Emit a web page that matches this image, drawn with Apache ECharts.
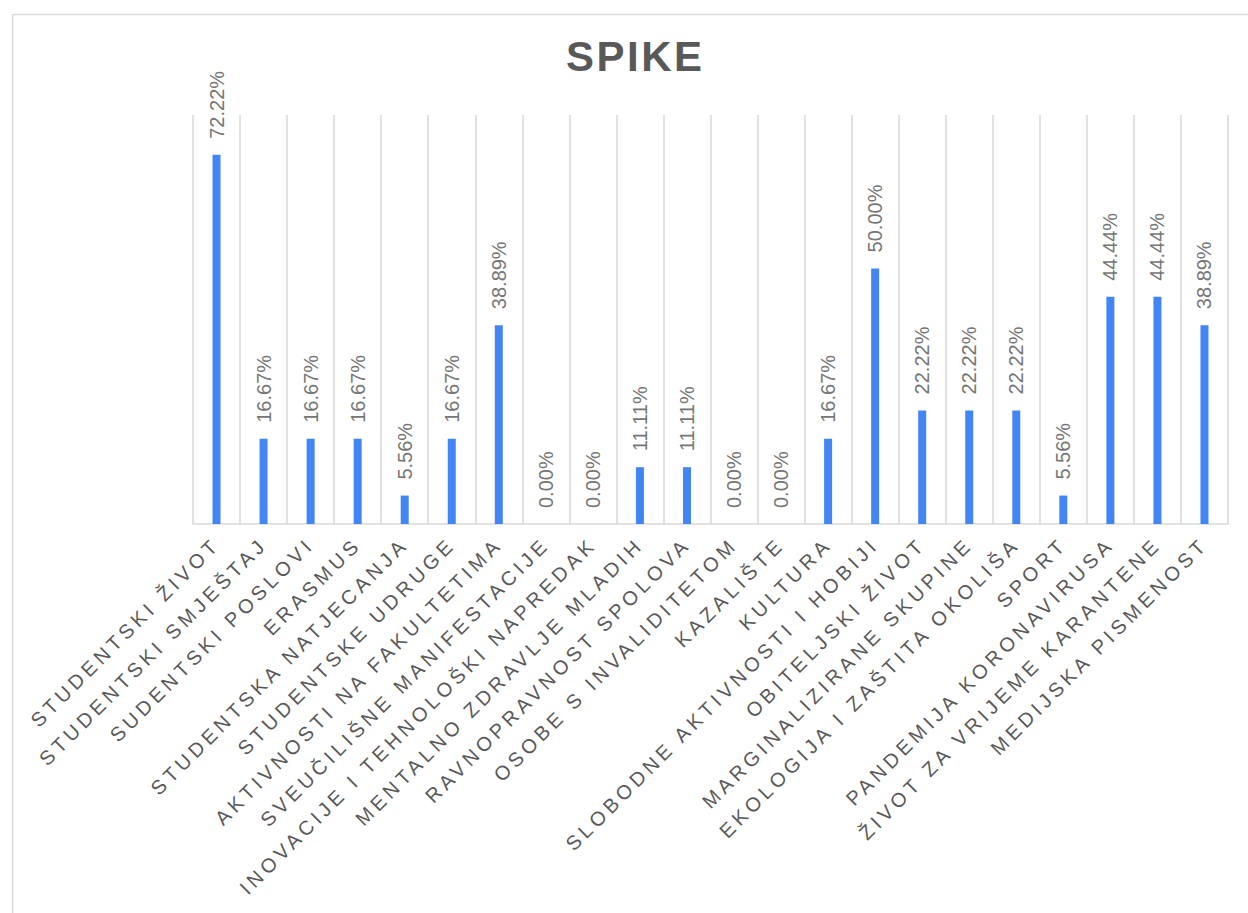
<!DOCTYPE html>
<html>
<head>
<meta charset="utf-8">
<script src="https://cdn.jsdelivr.net/npm/echarts@6/dist/echarts.min.js"></script>
<style>
html,body{margin:0;padding:0;background:#fff;}
#chart{width:1248px;height:913px;}
</style>
</head>
<body>
<div id="chart"></div>
<script>
const titleText = 'SPIKE';
const categories = [
  'STUDENTSKI ŽIVOT','STUDENTSKI SMJEŠTAJ','SUDENTSKI POSLOVI','ERASMUS',
  'STUDENTSKA NATJECANJA','STUDENTSKE UDRUGE','AKTIVNOSTI NA FAKULTETIMA',
  'SVEUČILIŠNE MANIFESTACIJE','INOVACIJE I TEHNOLOŠKI NAPREDAK','MENTALNO ZDRAVLJE MLADIH',
  'RAVNOPRAVNOST SPOLOVA','OSOBE S INVALIDITETOM','KAZALIŠTE','KULTURA',
  'SLOBODNE AKTIVNOSTI I HOBIJI','OBITELJSKI ŽIVOT','MARGINALIZIRANE SKUPINE',
  'EKOLOGIJA I ZAŠTITA OKOLIŠA','SPORT','PANDEMIJA KORONAVIRUSA',
  'ŽIVOT ZA VRIJEME KARANTENE','MEDIJSKA PISMENOST'
];
const values = [72.22,16.67,16.67,16.67,5.56,16.67,38.89,0,0,11.11,11.11,0,0,16.67,50.00,22.22,22.22,22.22,5.56,44.44,44.44,38.89];
const yMax = 80;

const grey = '#595959';
const chart = echarts.init(document.getElementById('chart'), null, {renderer:'svg', width:1248, height:913});
chart.setOption({
  animation:false,
  backgroundColor:'#ffffff',
  title:{
    text:titleText, left:561, top:30,
    textStyle:{fontFamily:'Liberation Sans, Arial, sans-serif', fontWeight:'bold', fontSize:42, color:grey}
  },
  graphic:[{
    type:'rect', left:10, top:12, silent:true,
    shape:{x:0,y:0,width:1300,height:1000},
    style:{fill:'none', stroke:'#d9d9d9', lineWidth:1.5}
  }],
  grid:{left:193, right:20, top:115, bottom:389},
  xAxis:{
    type:'category', data:categories, boundaryGap:true,
    axisLine:{lineStyle:{color:'#d9d9d9', width:1.5}},
    axisTick:{show:false},
    splitLine:{show:true, lineStyle:{color:'#d9d9d9', width:1.5}},
    axisLabel:{interval:0, rotate:45, margin:17, color:grey, fontSize:20, fontFamily:'Liberation Sans, Arial, sans-serif'}
  },
  yAxis:{
    type:'value', min:0, max:yMax, show:true,
    axisLabel:{show:false}, axisLine:{show:false}, axisTick:{show:false}, splitLine:{show:false}
  },
  series:[{
    type:'bar', data:values, barWidth:8,
    itemStyle:{color:'#4285F4'},
    label:{
      show:true, position:'top', rotate:90, align:'left', verticalAlign:'middle', distance:16,
      color:'#767676', fontSize:20, fontFamily:'Arial, sans-serif',
      formatter:function(p){return p.value.toFixed(2)+'%';}
    }
  }]
});

function applySpacing(){
  const catSet = new Set(categories);
  document.querySelectorAll('#chart svg text').forEach(function(t){
    const s = t.textContent;
    if (catSet.has(s)) t.setAttribute('letter-spacing','4.2');
    else if (s === titleText) t.setAttribute('letter-spacing','2.5');
  });
}
chart.on('finished', applySpacing);
setTimeout(applySpacing, 50);
</script>
</body>
</html>
